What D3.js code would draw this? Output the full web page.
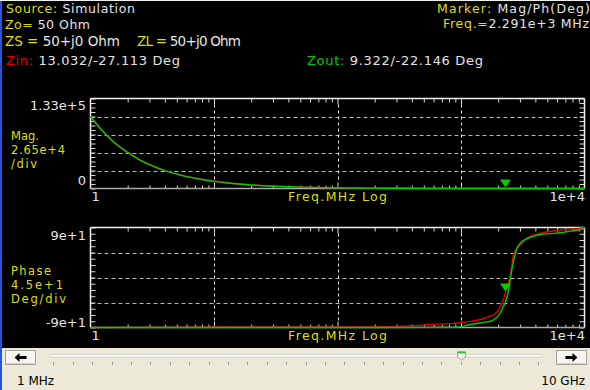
<!DOCTYPE html>
<html><head><meta charset="utf-8">
<script src="https://cdn.jsdelivr.net/npm/d3@7"></script>
<style>html,body{margin:0;padding:0;background:#000;overflow:hidden}svg{display:block}</style>
</head><body><svg id="c" width="590" height="390"></svg>
<script>
// ---------- DATA ----------
const freqMag = [1, 1.2, 1.5, 2, 2.5, 3, 4, 5, 6, 8, 10, 13, 16, 20, 25, 32, 40, 50, 63, 80, 100, 130, 160, 200, 250, 320, 400, 500, 630, 800, 1000, 1300, 1600, 2000, 2291, 2600, 3200, 4000, 5000, 6300, 8000, 10000];
const magZin  = [106000, 88500, 70500, 53200, 42300, 35400, 26400, 21300, 17600, 13300, 10600, 8150, 6700, 5400, 4300, 3350, 2650, 2120, 1680, 1330, 1060, 815, 662, 530, 424, 331, 265, 212, 168, 132, 105, 80, 62, 40, 13, 30, 45, 50, 52, 53, 54, 55];
const magZout = [106000, 88400, 70400, 53100, 42200, 35300, 26300, 21200, 17500, 13200, 10500, 8050, 6550, 5250, 4150, 3250, 2600, 2080, 1650, 1310, 1040, 800, 650, 520, 415, 325, 260, 208, 165, 130, 103, 78, 60, 35, 9, 20, 35, 42, 46, 48, 49, 50];

const freqPhZin = [1, 5, 10, 20, 50, 100, 223, 400, 566, 800, 1009, 1200, 1439, 1700, 1903, 2089, 2200, 2291, 2400, 2518, 2663, 2850, 3034, 3300, 3654, 4300, 5015, 6000, 7277, 8500, 10000];
const phaseZin  = [-90, -89.4, -89.2, -89.1, -89, -89, -88.7, -86.8, -84.6, -83, -81.5, -79, -75.6, -70, -64.8, -51.7, -40, -27.1, -12, 5.4, 41.4, 53, 59.4, 67, 74.3, 79, 82.3, 84.5, 86.4, 88, 89.5];
const freqPhZout = [1, 100, 500, 902, 1194, 1500, 1734, 1950, 2089, 2200, 2291, 2420, 2518, 2663, 2860, 3100, 3434, 3900, 4385, 5300, 6348, 7300, 8466, 10000];
const phaseZout  = [-90, -90, -89.8, -89.5, -84.6, -81, -78.7, -72, -63, -52, -45, -24.6, 0, 29.3, 54, 64, 70.2, 74.5, 77.4, 79, 80.5, 82.5, 85.1, 87.7];

const markerFreq = 2291;
const markerMagZin = 13.032;
const markerPhaseZin = -27.113;

const xTickLabels = ["1", "1e+4"];
const magTickLabels = ["1.33e+5", "0"];
const phaseTickLabels = ["9e+1", "-9e+1"];
const magDomain = [0, 1.325e5];
const phaseDomain = [-90, 90];
const freqDomain = [1, 1e4];

// ---------- SETUP ----------
const W = 590, H = 390;
const svg = d3.select("#c");
const FONT = "DejaVu Sans";
const YEL = "#dede10", WHT = "#e4e4e4", RED = "#e00000", GRN = "#00cc00";

svg.append("rect").attr("width", W).attr("height", H).attr("fill", "#000");

const x = d3.scaleLog().domain(freqDomain).range([90.5, 584.5]);
const yMag = d3.scaleLinear().domain(magDomain).range([188.5, 98.5]);
const yPh = d3.scaleLinear().domain(phaseDomain).range([327.5, 227.5]);

// ---------- HEADER TEXT ----------
function hdr(xp, yp, parts, len, size) {
  const t = svg.append("text").attr("x", xp).attr("y", yp)
    .attr("font-family", FONT).attr("font-size", size || 12.5)
    .attr("textLength", len).attr("lengthAdjust", "spacing");
  parts.forEach(p => t.append("tspan").attr("fill", p[1]).text(p[0]));
}
hdr(6, 13, [["Source:", YEL], [" Simulation", WHT]], 129);
hdr(5, 29, [["Zo=", YEL], [" 50 Ohm", WHT]], 85);
hdr(5, 46, [["ZS =", YEL], [" 50+j0 Ohm", WHT]], 115, 13.5);
hdr(137, 46, [["ZL =", YEL], [" 50+j0 Ohm", WHT]], 104, 13.5);
hdr(6, 65, [["Zin:", RED], [" 13.032/-27.113 Deg", WHT]], 174, 13);
hdr(437, 13, [["Marker:", YEL], [" Mag/Ph(Deg)", WHT]], 153);
hdr(443, 28, [["Freq.=", YEL], ["2.291e+3 MHz", WHT]], 146);
hdr(307, 65, [["Zout:", GRN], [" 9.322/-22.146 Deg", WHT]], 176, 13);

// ---------- PANELS ----------
const decades = [10, 100, 1000];
const minorLog = [];
[1, 10, 100, 1000].forEach(d => { for (let k = 2; k <= 9; k++) minorLog.push(d * k); });

function panel(y, nDiv, curves, tickLabels, sideLabels, tickOff) {
  const [y0, y1] = y.range(); // bottom, top
  const [d0, d1] = y.domain();
  const step = (d1 - d0) / nDiv;
  const gridVals = d3.range(1, nDiv).map(i => d0 + i * step);
  const minorY = d3.range(0, nDiv * 4 + 1).map(i => d0 + i * step / 4);
  const g = svg.append("g");

  g.selectAll(".hg").data(gridVals).join("line")
    .attr("x1", x.range()[0]).attr("x2", x.range()[1])
    .attr("y1", d => Math.round(y(d)) + 0.5).attr("y2", d => Math.round(y(d)) + 0.5)
    .attr("stroke", "#b8b8b8").attr("stroke-dasharray", "4,3");
  g.selectAll(".vg").data(decades).join("line")
    .attr("x1", d => Math.round(x(d)) + 0.5).attr("x2", d => Math.round(x(d)) + 0.5)
    .attr("y1", y1 + 6).attr("y2", y0 - 6)
    .attr("stroke", "#e8e8e8").attr("stroke-dasharray", "3,3");

  const tickStyle = s => { s.select(".domain").remove(); s.selectAll("line").attr("stroke", "#d8d8d8"); s.selectAll("text").remove(); };
  g.append("g").attr("transform", `translate(0,${y1})`)
    .call(d3.axisBottom(x).tickValues(minorLog).tickSize(4).tickFormat("")).call(tickStyle);
  g.append("g").attr("transform", `translate(0,${y1})`)
    .call(d3.axisBottom(x).tickValues(decades).tickSize(6).tickFormat("")).call(tickStyle);
  g.append("g").attr("transform", `translate(0,${y0})`)
    .call(d3.axisTop(x).tickValues(minorLog).tickSize(3).tickFormat("")).call(tickStyle);
  g.append("g").attr("transform", `translate(0,${y0})`)
    .call(d3.axisTop(x).tickValues(decades).tickSize(6).tickFormat("")).call(tickStyle);
  g.append("g").attr("transform", `translate(${x.range()[0]},0)`)
    .call(d3.axisRight(y).tickValues(minorY).tickSize(5).tickFormat("")).call(tickStyle);
  g.append("g").attr("transform", `translate(${x.range()[1]},0)`)
    .call(d3.axisLeft(y).tickValues(minorY).tickSize(5).tickFormat("")).call(tickStyle);

  g.append("line").attr("x1", x.range()[0]).attr("x2", x.range()[1]).attr("y1", y1).attr("y2", y1).attr("stroke", "#f0f0f0").attr("stroke-width", 1.5);
  g.append("line").attr("x1", x.range()[0]).attr("x2", x.range()[1]).attr("y1", y0).attr("y2", y0).attr("stroke", "#a8a8a8").attr("stroke-width", 1.5);
  g.append("line").attr("x1", x.range()[0]).attr("x2", x.range()[0]).attr("y1", y1).attr("y2", y0).attr("stroke", "#f0f0f0").attr("stroke-width", 1.5);
  g.append("line").attr("x1", x.range()[1]).attr("x2", x.range()[1]).attr("y1", y1).attr("y2", y0).attr("stroke", "#f0f0f0").attr("stroke-width", 1.5);

  curves.forEach(c => {
    const line = d3.line().x((d, i) => x(c.f[i])).y(d => y(d)).curve(d3.curveMonotoneX);
    g.append("path").attr("d", line(c.v)).attr("fill", "none")
      .attr("stroke", c.color).attr("stroke-width", 1.4);
  });

  g.append("text").attr("x", 86).attr("y", y1 + tickOff[0]).attr("text-anchor", "end")
    .attr("font-family", FONT).attr("font-size", 13).attr("fill", WHT).text(tickLabels[0]);
  g.append("text").attr("x", 86).attr("y", y0 + tickOff[1]).attr("text-anchor", "end")
    .attr("font-family", FONT).attr("font-size", 13).attr("fill", WHT).text(tickLabels[1]);
  g.append("text").attr("x", x(freqDomain[0]) + 1).attr("y", y0 + 12)
    .attr("font-family", FONT).attr("font-size", 13).attr("fill", WHT).text(xTickLabels[0]);
  g.append("text").attr("x", x(freqDomain[1]) + 0.5).attr("y", y0 + 12).attr("text-anchor", "end")
    .attr("font-family", FONT).attr("font-size", 13).attr("fill", WHT).text(xTickLabels[1]);
  g.append("text").attr("x", x(100)).attr("y", y0 + 12).attr("text-anchor", "middle")
    .attr("font-family", FONT).attr("font-size", 12.5).attr("fill", YEL)
    .attr("textLength", 99).attr("lengthAdjust", "spacing").text("Freq.MHz Log");
  sideLabels.forEach(s => {
    g.append("text").attr("x", 11).attr("y", s.y).attr("font-family", FONT)
      .attr("font-size", 11.5).attr("fill", YEL)
      .attr("textLength", s.w).attr("lengthAdjust", "spacing").text(s.t);
  });
  return g;
}

const gMag = panel(yMag, 5,
  [{ f: freqMag, v: magZin, color: RED }, { f: freqMag, v: magZout, color: GRN }],
  magTickLabels,
  [{ t: "Mag.", y: 140, w: 28 }, { t: "2.65e+4", y: 154, w: 54 }, { t: "/div", y: 168, w: 26 }],
  [11.5, -3.5]);

const gPh = panel(yPh, 4,
  [{ f: freqPhZin, v: phaseZin, color: RED }, { f: freqPhZout, v: phaseZout, color: GRN }],
  phaseTickLabels,
  [{ t: "Phase", y: 275, w: 40 }, { t: "4.5e+1", y: 289, w: 52 }, { t: "Deg/div", y: 303, w: 55 }],
  [12.5, -0.5]);

function marker(g, cx, tip) {
  g.append("path").attr("d", `M${cx - 5.5},${tip - 8}L${cx + 5.5},${tip - 8}L${cx},${tip}Z`).attr("fill", GRN);
}
marker(gMag, x(markerFreq), yMag(markerMagZin) - 1);
marker(gPh, x(markerFreq), yPh(markerPhaseZin) - 1);

// ---------- BOTTOM CONTROL BAR ----------
const bar = svg.append("g");
bar.append("rect").attr("x", 0).attr("y", 348).attr("width", W).attr("height", H - 348).attr("fill", "#ece9d8");
function button(x0, dir) {
  bar.append("rect").attr("x", x0 + 0.5).attr("y", 350.5).attr("width", 30).attr("height", 14)
    .attr("fill", "#f6f5f0").attr("stroke", "#a4a29a");
  bar.append("line").attr("x1", x0 + 1.5).attr("x2", x0 + 29.5).attr("y1", 363.5).attr("y2", 363.5).attr("stroke", "#d6d3c6");
  const cx = x0 + 15.5, cy = 357.5;
  const s = dir;
  bar.append("path").attr("d",
    `M${cx - 6 * s},${cy} L${cx - 1 * s},${cy - 4.5} L${cx - 1 * s},${cy - 1.5} L${cx + 6 * s},${cy - 1.5} L${cx + 6 * s},${cy + 1.5} L${cx - 1 * s},${cy + 1.5} L${cx - 1 * s},${cy + 4.5} Z`)
    .attr("fill", "#000");
}
button(5, 1);
button(556, -1);
bar.append("rect").attr("x", 50.5).attr("y", 354.5).attr("width", 491).attr("height", 2.5)
  .attr("fill", "#ffffff").attr("stroke", "#c8c6bc").attr("stroke-width", 0.8).attr("rx", 1);
bar.selectAll(".st").data(d3.range(26)).join("line")
  .attr("x1", i => Math.round(53.3 + i * 19.4) + 0.5).attr("x2", i => Math.round(53.3 + i * 19.4) + 0.5)
  .attr("y1", 362).attr("y2", 365).attr("stroke", "#a09e96");
const tx = 461.5;
bar.append("path").attr("d", `M${tx - 4},352 L${tx + 4},352 L${tx + 4},357 L${tx},360 L${tx - 4},357 Z`)
  .attr("fill", "#f4f4ee").attr("stroke", "#8a8a80").attr("stroke-width", 0.8);
bar.append("rect").attr("x", tx - 4).attr("y", 351.5).attr("width", 8).attr("height", 2).attr("fill", "#3cbc3c");
bar.append("text").attr("x", 17).attr("y", 385).attr("font-family", FONT).attr("font-size", 12).attr("fill", "#000").text("1 MHz");
bar.append("text").attr("x", 585).attr("y", 385).attr("text-anchor", "end").attr("font-family", FONT).attr("font-size", 12).attr("fill", "#000").text("10 GHz");

svg.append("rect").attr("x", 0).attr("y", 0).attr("width", 2).attr("height", H).attr("fill", "#2454d8");
svg.append("rect").attr("x", 0).attr("y", 0).attr("width", W).attr("height", 1).attr("fill", "#f0f0f0");
</script></body></html>
